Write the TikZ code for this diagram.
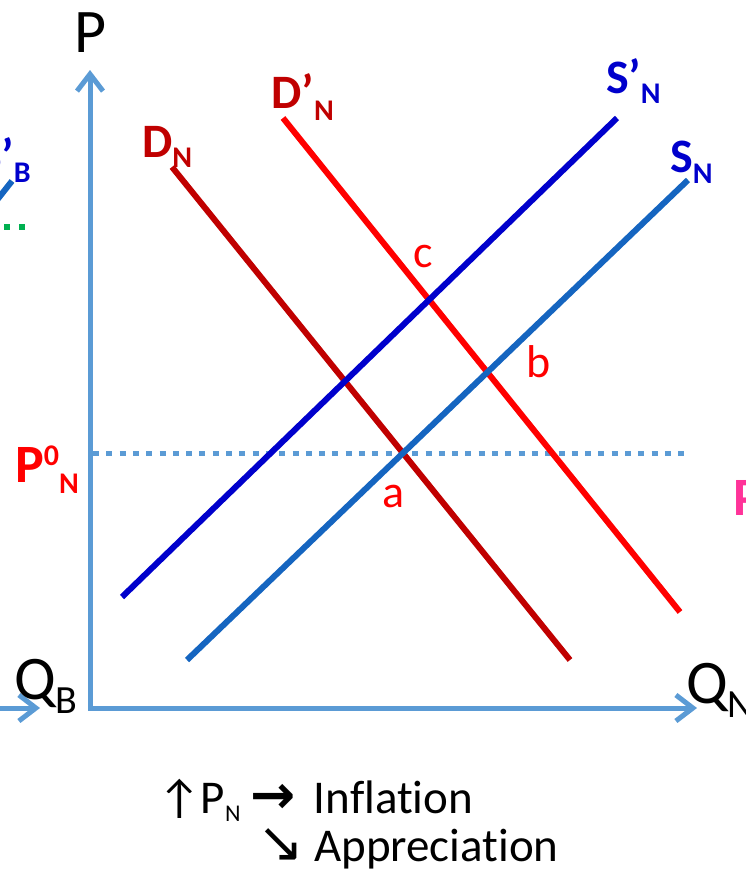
\documentclass[tikz,border=0pt]{standalone}
\usepackage{fontspec}
\setmainfont{Carlito}[Ligatures={NoCommon,NoRare,NoDiscretionary}]
\newfontfamily\arrowfont{DejaVu Sans}
\usetikzlibrary{arrows.meta}

\definecolor{axisblue}{RGB}{91,155,213}
\definecolor{dnred}{RGB}{192,0,0}
\definecolor{dpred}{RGB}{255,0,0}
\definecolor{snblue}{RGB}{21,101,192}
\definecolor{spblue}{RGB}{0,0,204}
\definecolor{sbgreen}{RGB}{0,176,80}
\definecolor{ppink}{RGB}{255,51,153}

\newcommand{\fs}[1]{\fontsize{#1}{#1}\selectfont}
\newcommand{\lsub}[3]{\raisebox{-#2pt}{\fs{#3}#1}}

\begin{document}
\begin{tikzpicture}[x=1pt, y=-1pt,
    axis/.style={draw=axisblue, line width=5pt, line join=miter},
    barb/.style={{Straight Barb[length=17pt,width=26pt]}-{Straight Barb[length=17pt,width=26pt]}},
    curve/.style={line width=6pt},
    curvelabel/.style={anchor=base west, inner sep=0pt, font=\fs{48}\bfseries},
    pointlabel/.style={anchor=base west, inner sep=0pt, text=dpred, font=\fs{46}},
    axislabel/.style={anchor=base west, inner sep=0pt, font=\fs{62}}]
  \useasboundingbox (0,0) rectangle (746,870);

  % axes
  \coordinate (ytop) at (90,70);
  \coordinate (O) at (90,708);
  \coordinate (xend) at (697,708);
  \draw[axis, barb] (ytop) -- (O) -- (xend);
  \coordinate (qbfrom) at (-5,708);
  \coordinate (qbtip) at (40,708);
  \draw[axis, -{Straight Barb[length=17pt,width=26pt]}] (qbfrom) -- (qbtip);

  \node[axislabel] (P) at (74,52) {P};
  \node[axislabel] (QB) at (14,699) {Q\lsub{B}{14}{40}};
  \node[axislabel] (QN) at (686,703) {Q\lsub{N}{14}{40}};

  % price line
  \coordinate (p0a) at (93,453);
  \coordinate (p0b) at (685,453);
  \draw[draw=axisblue, line width=5pt, dash pattern=on 6pt off 7.3pt] (p0a) -- (p0b);
  \node[anchor=base west, inner sep=0pt, text=dpred, font=\fs{54}\bfseries] (P0N) at (15,482)
    {P\raisebox{17pt}{\fs{30}0}\lsub{N}{11}{30}};

  % curves
  \coordinate (dn1) at (172,167);   \coordinate (dn2) at (570,660);
  \coordinate (dp1) at (283,118);   \coordinate (dp2) at (680,612);
  \coordinate (sp1) at (122,597);   \coordinate (sp2) at (617,118);
  \coordinate (sn1) at (187,660);   \coordinate (sn2) at (688,180);
  \draw[curve, dnred] (dn1) -- (dn2);
  \draw[curve, dpred] (dp1) -- (dp2);
  \draw[curve, spblue] (sp1) -- (sp2);
  \draw[curve, snblue] (sn1) -- (sn2);

  \node[curvelabel, text=dnred] (DN) at (142,157) {D\lsub{N}{10}{30}};
  \node[curvelabel, text=dnred] (DPN) at (271,108) {D’\lsub{N}{12}{30}};
  \node[curvelabel, text=spblue] (SPN) at (606,93) {S’\lsub{N}{10}{30}};
  \node[curvelabel, text=spblue] (SN) at (670,172) {S\lsub{N}{11}{30}};

  \node[pointlabel] (c) at (413,267) {c};
  \node[pointlabel] (b) at (526,377) {b};
  \node[pointlabel] (a) at (382,507) {a};

  % cut-off pieces of the neighbouring graph
  \coordinate (sb1) at (-3,200);    \coordinate (sb2) at (12,181);
  \draw[curve, snblue] (sb1) -- (sb2);
  \node[curvelabel, text=spblue] (SPB) at (-21,172) {S’\lsub{B}{10}{30}};
  \coordinate (pb1) at (4,227);     \coordinate (pb2) at (28,227);
  \draw[sbgreen, line width=6pt, dash pattern=on 6pt off 9pt] (pb1) -- (pb2);
  \node[anchor=base west, inner sep=0pt, text=ppink, font=\fs{54}\bfseries] (PB) at (733,515) {P};

  % effects
  \node[anchor=base west, inner sep=0pt, font=\fs{47}] (infl) at (158,813)
    {↑P\lsub{N}{8}{24}\hspace{10pt}\smash{\arrowfont\bfseries\fs{54}→}\hspace{18pt}Inflation};
  \node[anchor=base west, inner sep=0pt, font=\fs{47}] (appr) at (257,861)
    {\smash{\arrowfont\fs{56}↘}\hspace{10pt}Appreciation};
\end{tikzpicture}
\end{document}
